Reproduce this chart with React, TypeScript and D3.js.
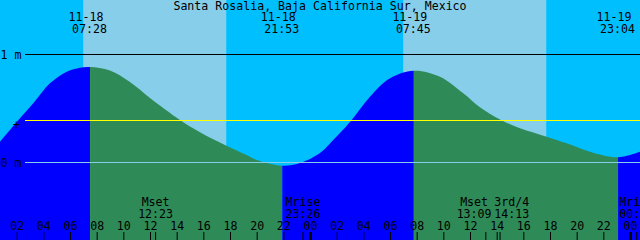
import React from 'react';
import * as d3 from 'd3';

// ---- data ----
const title = 'Santa Rosalia, Baja California Sur, Mexico';

// hours since 11-18 00:00 and water level in metres
const tideHours = [0.7, 2.21, 3.21, 4.46, 5.72, 6.71, 7.467, 8.96, 10.46, 11.96, 14.21, 15.71, 17.66, 19.46, 19.97, 21.883, 23.21, 24.71, 25.46, 26.21, 27.09, 28.46, 29.96, 31.75, 33.71, 35.46, 36.71, 38.21, 39.71, 41.71, 43.21, 44.96, 47.067, 48.8];
const tideHeights = [0.19, 0.409, 0.548, 0.733, 0.841, 0.878, 0.884, 0.852, 0.745, 0.597, 0.394, 0.28, 0.157, 0.054, 0.023, -0.03, -0.005, 0.088, 0.176, 0.273, 0.394, 0.609, 0.78, 0.85, 0.794, 0.641, 0.511, 0.398, 0.317, 0.239, 0.178, 0.1, 0.048, 0.104];

const extremeHours = [7.467, 21.883, 31.75, 47.067];
const extremeDates = ['11-18', '11-18', '11-19', '11-19'];
const extremeTimes = ['07:28', '21:53', '07:45', '23:04'];

const sunriseHours = [6.95, 30.95];
const sunsetHours = [17.68, 41.68];

const moonHours = [12.383, 23.433, 37.15, 38.217, 48.467];
const moonNames = ['Mset', 'Mrise', 'Mset', '3rd/4', 'Mrise'];
const moonTimes = ['12:23', '23:26', '13:09', '14:13', '00:28'];

const hourTicks = [2, 4, 6, 8, 10, 12, 14, 16, 18, 20, 22, 24, 26, 28, 30, 32, 34, 36, 38, 40, 42, 44, 46, 48];
const hourLabels = ['02', '04', '06', '08', '10', '12', '14', '16', '18', '20', '22', '00', '02', '04', '06', '08', '10', '12', '14', '16', '18', '20', '22', '00'];
const midnightHours = [24, 48];

const levelValues = [1, 0];
const levelLabels = ['1 m', '0 m'];
const meanLevel = 0.389;

const timeDomain = [0.75, 48.75];

export default function App() {
  const W = 640;
  const H = 240;
  const x = d3.scaleLinear().domain(timeDomain).range([0.5, 640.5]);
  const y = d3.scaleLinear().domain([0, 1]).range([162.5, 54.5]);

  const pts = tideHours.map((h, i) => ({ h, m: tideHeights[i] }));
  const areaPath = d3
    .area<{ h: number; m: number }>()
    .x((d) => x(d.h))
    .y0(H)
    .y1((d) => y(d.m))
    .curve(d3.curveCatmullRom.alpha(0.5))(pts) as string;

  const bounds = [timeDomain[0] - 1, ...extremeHours, timeDomain[1] + 1];
  const segs = bounds.slice(0, -1).map((b, i) => ({
    x0: x(b),
    x1: x(bounds[i + 1]),
    rising: i % 2 === 0,
  }));

  // moon label centres, pushed apart where they would overlap
  const centers = moonHours.map((h) => x(h));
  const minDist = 37.7;
  for (let i = 0; i < centers.length - 1; i++) {
    if (centers[i + 1] - centers[i] < minDist) {
      const mid = (centers[i] + centers[i + 1]) / 2;
      centers[i] = mid - minDist / 2;
      centers[i + 1] = mid + minDist / 2;
    }
  }

  const font = {
    fontFamily: "'DejaVu Sans Mono', 'Liberation Mono', monospace",
    fontSize: 11.6,
    fill: '#000',
  } as const;

  return (
    <svg
      width={W}
      height={H}
      viewBox={`0 0 ${W} ${H}`}
      style={{ position: 'fixed', left: 0, top: 0, display: 'block' }}
    >
      <defs>
        <clipPath id="tideClip">
          <path d={areaPath} />
        </clipPath>
      </defs>
      {/* night / day */}
      <rect x={0} y={0} width={W} height={H} fill="#00BFFF" />
      {sunriseHours.map((h, i) => (
        <rect key={'d' + i} x={x(h)} y={0} width={x(sunsetHours[i]) - x(h)} height={H} fill="#87CEEB" />
      ))}
      {/* tide fill */}
      <g clipPath="url(#tideClip)">
        {segs.map((s, i) => (
          <rect key={'s' + i} x={s.x0} y={0} width={s.x1 - s.x0} height={H} fill={s.rising ? '#0000FF' : '#2E8B57'} />
        ))}
      </g>
      {/* level lines */}
      <line x1={25} x2={W} y1={y(1)} y2={y(1)} stroke="#000" strokeWidth={1} />
      <line x1={25} x2={W} y1={y(meanLevel)} y2={y(meanLevel)} stroke="#FFFF00" strokeWidth={1.2} />
      <line x1={25} x2={W} y1={y(0)} y2={y(0)} stroke="#87CEEB" strokeWidth={1} />
      {levelValues.map((v, i) => (
        <text key={'l' + i} x={0.5} y={y(v) + 4.3} {...font}>
          {levelLabels[i]}
        </text>
      ))}
      <text x={16.2} y={y(meanLevel) + 8.4} textAnchor="middle" {...font}>
        +
      </text>
      {/* title */}
      <text x={320} y={10} textAnchor="middle" {...font}>
        {title}
      </text>
      {/* tide extreme labels */}
      {extremeHours.map((h, i) => (
        <g key={'e' + i}>
          <text x={x(h) - 4} y={21} textAnchor="middle" {...font}>
            {extremeDates[i]}
          </text>
          <text x={x(h) - 0.5} y={33} textAnchor="middle" {...font}>
            {extremeTimes[i]}
          </text>
        </g>
      ))}
      {/* moon events */}
      {moonHours.map((h, i) => (
        <g key={'m' + i}>
          <text x={centers[i]} y={206} textAnchor="middle" {...font}>
            {moonNames[i]}
          </text>
          <text x={centers[i]} y={218.3} textAnchor="middle" {...font}>
            {moonTimes[i]}
          </text>
          <line x1={x(h)} x2={x(h)} y1={232} y2={H} stroke="#000" strokeWidth={1} />
        </g>
      ))}
      {/* hour axis */}
      {hourTicks.map((h, i) => (
        <g key={'h' + i}>
          <text x={x(h)} y={230} textAnchor="middle" {...font}>
            {hourLabels[i]}
          </text>
          <line x1={x(h)} x2={x(h)} y1={232} y2={H} stroke="#000" strokeWidth={1} />
        </g>
      ))}
      {midnightHours.map((h, i) => (
        <line key={'n' + i} x1={x(h)} x2={x(h)} y1={232} y2={H} stroke="#000" strokeWidth={3} />
      ))}
    </svg>
  );
}
